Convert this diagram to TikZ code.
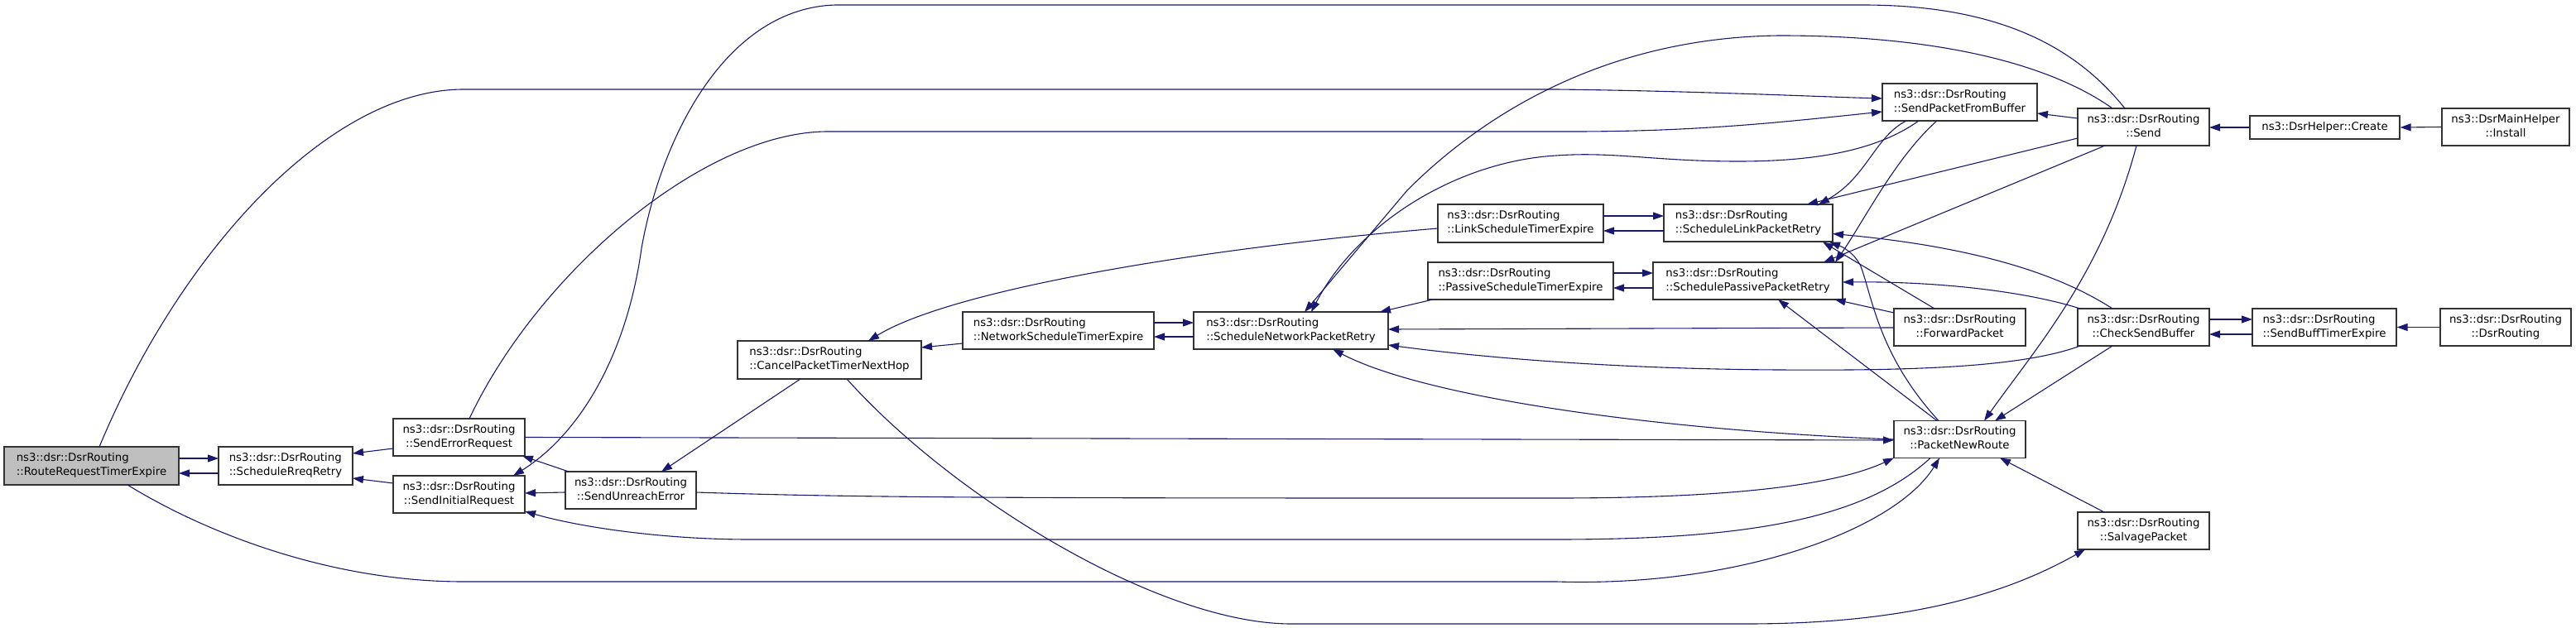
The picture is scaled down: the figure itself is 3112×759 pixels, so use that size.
\documentclass[tikz,border=0pt]{standalone}
\usepackage{fontspec}
\setmainfont{DejaVu Sans}
\usetikzlibrary{arrows.meta,calc}
\definecolor{edgeblue}{HTML}{191970}
\definecolor{nodegray}{HTML}{BFBFBF}
\newcommand{\twoline}[2]{\begin{tabular}{@{}c@{}}\multicolumn{1}{@{}l@{}}{#1}\\#2\end{tabular}}
\begin{document}
\begin{tikzpicture}[x=1pt,y=-1pt,
  box/.style={draw=black!80, line width=1.2pt, fill=white, inner sep=0pt,
    minimum height=45pt, font=\fontsize{13.3pt}{17pt}\selectfont},
  edge/.style={draw=edgeblue, line width=1.1pt, -{Triangle[length=13pt,width=9pt]}}]
\useasboundingbox (0,0) rectangle (3112,759);
\fill[white] (0,0) rectangle (3112,759);
% nodes
\node[box, minimum width=211pt, minimum height=46pt, fill=nodegray] (RRTE) at (110.5,563) {\twoline{ns3::dsr::DsrRouting}{::RouteRequestTimerExpire}};
\node[box, minimum width=162pt, minimum height=46pt] (SRR) at (345,563) {\twoline{ns3::dsr::DsrRouting}{::ScheduleRreqRetry}};
\node[box, minimum width=159pt] (SER) at (554.5,528.5) {\twoline{ns3::dsr::DsrRouting}{::SendErrorRequest}};
\node[box, minimum width=159pt] (SIR) at (554.5,597.5) {\twoline{ns3::dsr::DsrRouting}{::SendInitialRequest}};
\node[box, minimum width=158pt] (SUE) at (762,592.5) {\twoline{ns3::dsr::DsrRouting}{::SendUnreachError}};
\node[box, minimum width=222pt, minimum height=46pt] (CPTNH) at (1002,435) {\twoline{ns3::dsr::DsrRouting}{::CancelPacketTimerNextHop}};
\node[box, minimum width=231pt] (NSTE) at (1278.5,399.5) {\twoline{ns3::dsr::DsrRouting}{::NetworkScheduleTimerExpire}};
\node[box, minimum width=235pt] (SNPR) at (1559.5,399.5) {\twoline{ns3::dsr::DsrRouting}{::ScheduleNetworkPacketRetry}};
\node[box, minimum width=200pt, minimum height=46pt] (LSTE) at (1837,270) {\twoline{ns3::dsr::DsrRouting}{::LinkScheduleTimerExpire}};
\node[box, minimum width=224pt] (PSTE) at (1837,339.5) {\twoline{ns3::dsr::DsrRouting}{::PassiveScheduleTimerExpire}};
\node[box, minimum width=204pt] (SLPR) at (2112,269.5) {\twoline{ns3::dsr::DsrRouting}{::ScheduleLinkPacketRetry}};
\node[box, minimum width=229pt] (SPPR) at (2111.5,339.5) {\twoline{ns3::dsr::DsrRouting}{::SchedulePassivePacketRetry}};
\node[box, minimum width=187pt] (SPFB) at (2367.5,123.5) {\twoline{ns3::dsr::DsrRouting}{::SendPacketFromBuffer}};
\node[box, minimum width=159pt] (FP) at (2367.5,395.5) {\twoline{ns3::dsr::DsrRouting}{::ForwardPacket}};
\node[box, minimum width=159pt] (PNR) at (2367.5,531) {\twoline{ns3::dsr::DsrRouting}{::PacketNewRoute}};
\node[box, minimum width=159pt] (Send) at (2589.5,153.5) {\twoline{ns3::dsr::DsrRouting}{::Send}};
\node[box, minimum width=159pt] (CSB) at (2589.5,395.5) {\twoline{ns3::dsr::DsrRouting}{::CheckSendBuffer}};
\node[box, minimum width=159pt] (SALV) at (2589.5,641.5) {\twoline{ns3::dsr::DsrRouting}{::SalvagePacket}};
\node[box, minimum width=181pt, minimum height=28pt] (CREATE) at (2808.5,154) {ns3::DsrHelper::Create};
\node[box, minimum width=174pt] (SBTE) at (2808,395.5) {\twoline{ns3::dsr::DsrRouting}{::SendBuffTimerExpire}};
\node[box, minimum width=154pt] (INST) at (3027,153.5) {\twoline{ns3::DsrMainHelper}{::Install}};
\node[box, minimum width=158pt] (DSRR) at (3027,395.5) {\twoline{ns3::dsr::DsrRouting}{::DsrRouting}};
% edges
\draw[edge] ($(RRTE.center)+(105.5,-9)$) -- ($(SRR.center)+(-81,-9)$);
\draw[edge] ($(SRR.center)+(-81,9)$) -- ($(RRTE.center)+(105.5,9)$);
\draw[edge] ($(SER.center)+(-79.5,13.5)$) -- ($(SRR.center)+(81,-15)$);
\draw[edge] ($(SIR.center)+(-79.5,-13.5)$) -- ($(SRR.center)+(81,15)$);
\draw[edge] ($(SUE.center)+(-75,-22.5)$) -- ($(SER.center)+(76.5,22.5)$);
\draw[edge] ($(SUE.center)+(-79,2.5)$) -- ($(SIR.center)+(79.5,-1.5)$);
\draw[edge] ($(CPTNH.center)+(-35,23)$) -- ($(SUE.center)+(37,-22.5)$);
\draw[edge] ($(NSTE.center)+(-115.5,15.5)$) -- ($(CPTNH.center)+(111,-15)$);
\draw[edge] ($(NSTE.center)+(115.5,-9.5)$) -- ($(SNPR.center)+(-117.5,-9.5)$);
\draw[edge] ($(SNPR.center)+(-117.5,7.5)$) -- ($(NSTE.center)+(115.5,7.5)$);
\draw[edge] ($(LSTE.center)+(-100,6)$) .. controls (1450,300) and (1150,350) .. ($(CPTNH.center)+(47,-23)$);
\draw[edge] ($(PSTE.center)+(-106,22.5)$) -- ($(SNPR.center)+(107.5,-22.5)$);
\draw[edge] ($(LSTE.center)+(100,-9)$) -- ($(SLPR.center)+(-102,-8.5)$);
\draw[edge] ($(SLPR.center)+(-102,9.5)$) -- ($(LSTE.center)+(100,9)$);
\draw[edge] ($(PSTE.center)+(112,-9.5)$) -- ($(SPPR.center)+(-114.5,-9.5)$);
\draw[edge] ($(SPPR.center)+(-114.5,8.5)$) -- ($(PSTE.center)+(112,8.5)$);
\draw[edge] ($(FP.center)+(-79.5,0.5)$) -- ($(SNPR.center)+(117.5,-1.5)$);
\draw[edge] ($(CSB.center)+(-76.5,22.5)$) .. controls (2440,445) and (2300,448) .. (2150,447) .. controls (1950,446) and (1790,432) .. ($(SNPR.center)+(117.5,17.5)$);
\draw[edge] ($(PNR.center)+(-79.5,0)$) .. controls (2000,520) and (1720,480) .. ($(SNPR.center)+(50.5,22.5)$);
\draw[edge] ($(SER.center)+(79.5,0)$) -- ($(PNR.center)+(-79.5,1)$);
\draw[edge] ($(SUE.center)+(79,2.5)$) .. controls (1050,602) and (1250,602) .. (1880,602) .. controls (2100,602) and (2220,585) .. ($(PNR.center)+(-79.5,22.5)$);
\draw[edge] ($(PNR.center)+(-35.5,22.5)$) .. controls (2250,630) and (2100,652) .. (1880,652) -- (906,652) .. controls (800,652) and (700,637) .. ($(SIR.center)+(79.5,20.5)$);
\draw[edge] ($(RRTE.center)+(43.5,23)$) .. controls (250,645) and (400,703) .. (560,703) -- (1880,703) .. controls (2100,710) and (2290,640) .. ($(PNR.center)+(-24.5,22.5)$);
\draw[edge] ($(Send.center)+(-8.5,22.5)$) .. controls (2540,330) and (2460,420) .. ($(PNR.center)+(29.5,-22.5)$);
\draw[edge] ($(CSB.center)+(-37.5,22.5)$) -- ($(PNR.center)+(42.5,-22.5)$);
\draw[edge] ($(SALV.center)+(-47.5,-22.5)$) -- ($(PNR.center)+(48.5,22.5)$);
\draw[edge] ($(CPTNH.center)+(21,23)$) .. controls (1150,600) and (1400,754) .. (1560,754) -- (2110,754) .. controls (2300,754) and (2420,720) .. ($(SALV.center)+(-70.5,22.5)$);
\draw[edge] ($(PNR.center)+(-27.5,-22.5)$) -- ($(SPPR.center)+(36.5,22.5)$);
\draw[edge] ($(PNR.center)+(-25.5,-22.5)$) .. controls (2270,430) and (2262,360) .. (2248,322) .. controls (2240,305) and (2225,298) .. ($(SLPR.center)+(98,23)$);
\draw[edge] ($(FP.center)+(-30.5,-22.5)$) -- ($(SLPR.center)+(90,23)$);
\draw[edge] ($(FP.center)+(-79.5,-17.5)$) -- ($(SPPR.center)+(105,22.5)$);
\draw[edge] ($(SPFB.center)+(-64.5,22.5)$) .. controls (2265,165) and (2255,215) .. ($(SLPR.center)+(85,-22.5)$);
\draw[edge] ($(SPFB.center)+(-49.5,22.5)$) .. controls (2270,180) and (2200,195) .. (2100,195) .. controls (2000,195) and (1950,183) .. (1880,188) .. controls (1760,195) and (1640,270) .. ($(SNPR.center)+(24.5,-22.5)$);
\draw[edge] ($(SPFB.center)+(-27.5,22.5)$) .. controls (2290,190) and (2250,270) .. ($(SPPR.center)+(105.5,-22.5)$);
\draw[edge] ($(Send.center)+(-79.5,-10.5)$) -- ($(SPFB.center)+(93.5,13.5)$);
\draw[edge] ($(Send.center)+(-79.5,13.5)$) -- ($(SLPR.center)+(71,-22.5)$);
\draw[edge] ($(Send.center)+(-46.5,22.5)$) -- ($(SPPR.center)+(91.5,-22.5)$);
\draw[edge] ($(Send.center)+(-22.5,-22.5)$) .. controls (2510,60) and (2420,6) .. (2250,6) -- (1010,6) .. controls (880,9) and (800,160) .. (775,300) .. controls (757,430) and (700,525) .. ($(SIR.center)+(65.5,-22.5)$);
\draw[edge] ($(Send.center)+(-37.5,-22.5)$) .. controls (2480,80) and (2350,43) .. (2150,43) .. controls (1950,45) and (1800,130) .. (1700,230) -- ($(SNPR.center)+(16.5,-22.5)$);
\draw[edge] ($(RRTE.center)+(9.5,-23)$) .. controls (220,300) and (400,108) .. (560,108) -- (1880,108) .. controls (2050,110) and (2200,117) .. ($(SPFB.center)+(-93.5,-4.5)$);
\draw[edge] ($(SER.center)+(12.5,-22.5)$) .. controls (650,330) and (850,159) .. (1000,159) -- (1900,159) .. controls (2050,159) and (2150,148) .. ($(SPFB.center)+(-93.5,11.5)$);
\draw[edge] (CREATE.west) -- ($(Send.center)+(79.5,0.5)$);
\draw[edge] (INST.west) -- (CREATE.east);
\draw[edge] ($(CSB.center)+(79.5,-9.5)$) -- ($(SBTE.center)+(-87,-9.5)$);
\draw[edge] ($(SBTE.center)+(-87,8.5)$) -- ($(CSB.center)+(79.5,8.5)$);
\draw[edge] (DSRR.west) -- (SBTE.east);
\draw[edge] ($(CSB.center)+(-37.5,-22.5)$) .. controls (2470,320) and (2350,295) .. ($(SLPR.center)+(102,13)$);
\draw[edge] ($(CSB.center)+(-76.5,-22.5)$) .. controls (2440,350) and (2330,340) .. ($(SPPR.center)+(114.5,1.5)$);
\end{tikzpicture}
\end{document}
